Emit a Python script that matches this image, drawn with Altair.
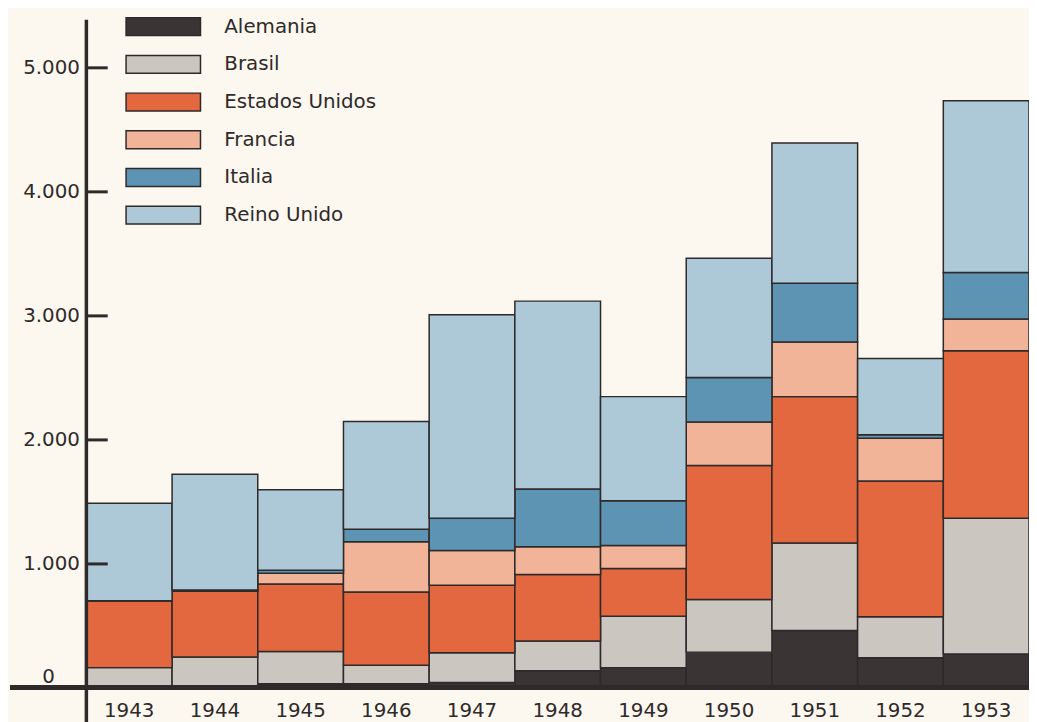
import altair as alt
import pandas as pd

# ---- data ----
years = [1943, 1944, 1945, 1946, 1947, 1948, 1949, 1950, 1951, 1952, 1953]
countries = ["Alemania", "Brasil", "Estados Unidos", "Francia", "Italia", "Reino Unido"]
alemania = [0, 0, 30, 30, 40, 135, 160, 285, 460, 240, 270]
brasil = [160, 245, 260, 150, 240, 240, 415, 425, 705, 330, 1095]
estados_unidos = [540, 530, 545, 590, 545, 535, 385, 1080, 1180, 1095, 1350]
francia = [0, 10, 85, 405, 280, 225, 185, 350, 440, 345, 255]
italia = [0, 0, 25, 100, 260, 465, 360, 360, 475, 27, 375]
reino_unido = [785, 935, 650, 870, 1640, 1515, 840, 960, 1130, 615, 1385]
y_ticks = [1000, 2000, 3000, 4000, 5000]
zero_label = [0]

colors = ["#3b3434", "#cbc7c0", "#e3673f", "#f2b499", "#5e94b3", "#adc8d7"]
INK = "#2e2a29"
BG = "#fcf7ef"
FONT = "DejaVu Sans"

series = [alemania, brasil, estados_unidos, francia, italia, reino_unido]
rows = []
for i, (c, vals) in enumerate(zip(countries, series)):
    for y, v in zip(years, vals):
        rows.append({"year": str(y), "country": c, "idx": i, "value": v})
df = pd.DataFrame(rows)

W, H = 950, 673
ydom = [0, 5384]
yscale = alt.Scale(domain=ydom, nice=False, zero=False)
# axis moved 21px into the plot so its ticks point inward from the axis line
yaxis = alt.Axis(values=y_ticks, format=",d",
                 labelExpr="replace(datum.label, ',', '.')",
                 offset=-21, ticks=True, tickSize=21, tickWidth=3, tickColor=INK,
                 grid=False, domain=False, zindex=1,
                 labelFontSize=20, labelPadding=7,
                 labelColor=INK, labelFont=FONT, title=None)

rect_path = "M-4.1667,-1H4.1667V1H-4.1667Z"

bars = alt.Chart(df).mark_bar(stroke=INK, strokeWidth=1.5, opacity=1).encode(
    x=alt.X("year:O", title=None,
            scale=alt.Scale(paddingInner=0, paddingOuter=0),
            axis=alt.Axis(domain=False, ticks=False, labelAngle=0, labelFontSize=20,
                          labelPadding=13, labelColor=INK, labelFont=FONT)),
    y=alt.Y("value:Q", stack="zero", title=None, scale=yscale, axis=yaxis),
    color=alt.Color("country:N",
                    scale=alt.Scale(domain=countries, range=colors),
                    legend=alt.Legend(title=None, orient="none", legendX=67.5, legendY=-3,
                                      symbolType=rect_path, symbolSize=324,
                                      symbolStrokeColor=INK, symbolStrokeWidth=1.5,
                                      symbolOpacity=1, symbolOffset=0,
                                      labelFontSize=20, labelOffset=51.5,
                                      labelColor=INK, labelFont=FONT,
                                      rowPadding=14, padding=0)),
    order=alt.Order("idx:Q", sort="ascending"),
)

base_df = pd.DataFrame({"v": zero_label})

baseline = alt.Chart(base_df).mark_rule(color=INK, strokeWidth=5).encode(
    y=alt.Y("v:Q", scale=yscale, title=None),
    x=alt.value(-77), x2=alt.value(W),
)

# vertical axis line, running from the top of the plot below the baseline
yline = alt.Chart(base_df).mark_rule(color=INK, strokeWidth=3.5).encode(
    y=alt.value(0),
    y2=alt.value(H + 45),
    x=alt.value(0),
)

zero_txt = alt.Chart(base_df).mark_text(
    text="0", fontSize=20, font=FONT, color=INK, dy=-11, align="center", baseline="middle"
).encode(
    y=alt.Y("v:Q", scale=yscale, title=None),
    x=alt.value(-38),
)

chart = alt.layer(bars, baseline, yline, zero_txt).properties(
    width=W, height=H,
    autosize=alt.AutoSizeParams(type="none"),
    padding={"left": 79, "top": 9, "right": 0, "bottom": 32},
    background=BG,
).configure_view(stroke=None)

chart.save("out.html", embed_options={"renderer": "svg", "actions": False})
